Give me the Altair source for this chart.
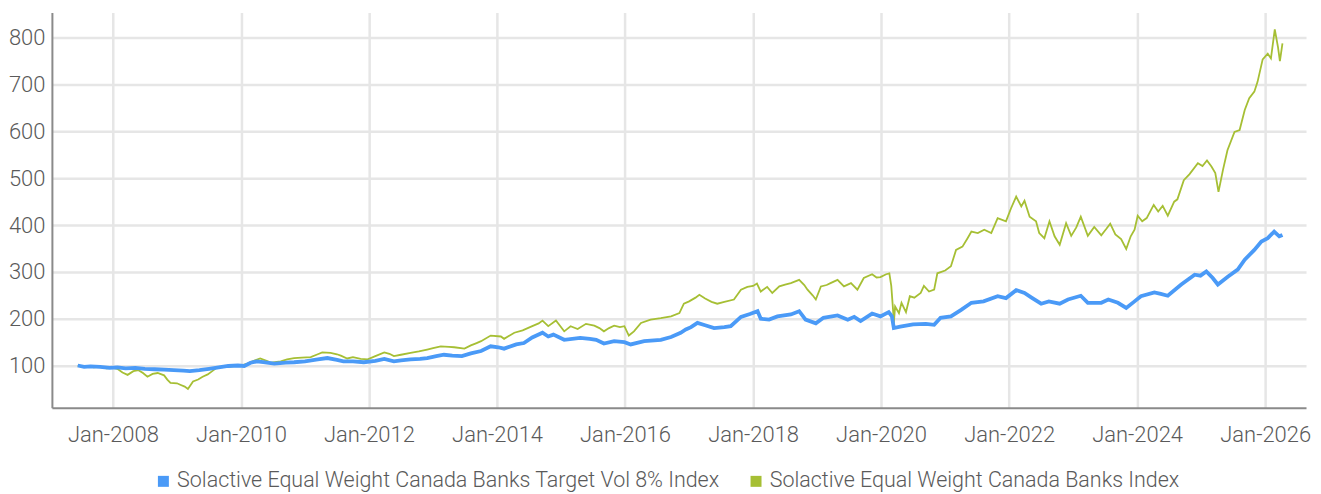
import altair as alt
import pandas as pd

BLUE_NAME = "Solactive Equal Weight Canada Banks Target Vol 8% Index"
GREEN_NAME = "Solactive Equal Weight Canada Banks Index"

green_t = [2007.45, 2007.52, 2007.6, 2007.7, 2007.8, 2007.9, 2008.0, 2008.07, 2008.15, 2008.23,
           2008.32, 2008.4, 2008.47, 2008.54, 2008.62, 2008.7, 2008.8, 2008.85, 2008.9, 2009.0,
           2009.05, 2009.12, 2009.17, 2009.25, 2009.33, 2009.4, 2009.48, 2009.55, 2009.62, 2009.7,
           2009.85, 2010.0, 2010.1, 2010.18, 2010.3, 2010.4, 2010.47, 2010.62, 2010.72, 2010.83,
           2010.95, 2011.09, 2011.2, 2011.27, 2011.4, 2011.5, 2011.56, 2011.66, 2011.75, 2011.87,
           2011.98, 2012.1, 2012.24, 2012.32, 2012.39, 2012.5, 2012.65, 2012.78, 2012.91, 2013.0,
           2013.12, 2013.25, 2013.33, 2013.49, 2013.59, 2013.68, 2013.75, 2013.9, 2014.06, 2014.11,
           2014.27, 2014.4, 2014.55, 2014.65, 2014.71, 2014.8, 2014.92, 2015.05, 2015.15, 2015.26,
           2015.39, 2015.52, 2015.6, 2015.67, 2015.75, 2015.83, 2015.92, 2015.99, 2016.06, 2016.14,
           2016.25, 2016.4, 2016.56, 2016.72, 2016.85, 2016.92, 2017.0, 2017.1, 2017.16, 2017.25,
           2017.35, 2017.44, 2017.55, 2017.7, 2017.81, 2017.91, 2018.0, 2018.06, 2018.12, 2018.22,
           2018.3, 2018.41, 2018.5, 2018.59, 2018.72, 2018.8, 2018.85, 2018.93, 2018.98, 2019.06,
           2019.15, 2019.21, 2019.32, 2019.42, 2019.53, 2019.63, 2019.73, 2019.86, 2019.93, 2019.99,
           2020.08, 2020.13, 2020.16, 2020.19, 2020.2, 2020.22, 2020.28, 2020.32, 2020.39, 2020.45,
           2020.52, 2020.62, 2020.67, 2020.75, 2020.83, 2020.88, 2021.0, 2021.09, 2021.17, 2021.27,
           2021.35, 2021.41, 2021.51, 2021.61, 2021.72, 2021.82, 2021.95, 2022.03, 2022.11, 2022.19,
           2022.24, 2022.32, 2022.42, 2022.47, 2022.55, 2022.63, 2022.71, 2022.79, 2022.89, 2022.97,
           2023.05, 2023.12, 2023.23, 2023.33, 2023.44, 2023.52, 2023.58, 2023.66, 2023.75, 2023.83,
           2023.9, 2023.96, 2024.01, 2024.08, 2024.15, 2024.26, 2024.33, 2024.4, 2024.48, 2024.58,
           2024.63, 2024.73, 2024.82, 2024.95, 2025.02, 2025.09, 2025.16, 2025.22, 2025.27, 2025.34,
           2025.41, 2025.52, 2025.6, 2025.68, 2025.75, 2025.83, 2025.88, 2025.96, 2026.04, 2026.09,
           2026.15, 2026.2, 2026.23, 2026.27]
green_v = [100, 97, 99, 96, 97, 94, 95, 93, 85, 80,
           88, 90, 84, 76, 82, 84, 79, 70, 63, 62,
           59, 55, 50, 66, 70, 76, 81, 88, 95, 97,
           98, 100, 104, 109, 115, 110, 106, 109, 113, 116,
           117, 118, 124, 128, 127, 124, 121, 115, 118, 114,
           113, 120, 128, 125, 120, 123, 127, 130, 134, 137,
           141, 140, 139, 136, 143, 148, 152, 164, 162, 157,
           170, 175, 184, 190, 196, 184, 196, 173, 184, 178,
           189, 185, 180, 173, 180, 185, 182, 184, 164, 173,
           191, 198, 201, 205, 212, 232, 237, 245, 251, 243,
           236, 232, 236, 241, 262, 268, 270, 275, 258, 268,
           255, 269, 273, 276, 283, 272, 262, 250, 241, 269,
           272, 276, 283, 269, 276, 262, 287, 295, 288, 289,
           295, 297, 270, 215, 191, 226, 212, 234, 214, 248,
           245, 255, 270, 258, 262, 297, 303, 312, 347, 354,
           372, 386, 383, 390, 383, 415, 408, 436, 461, 440,
           452, 418, 408, 383, 372, 408, 376, 358, 404, 377,
           395, 418, 377, 396, 378, 392, 403, 380, 370, 349,
           376, 390, 420, 408, 415, 443, 429, 441, 420, 450,
           455, 496, 509, 532, 526, 538, 525, 511, 471, 518,
           560, 599, 603, 646, 671, 685, 706, 754, 766, 756,
           818, 780, 750, 788]

blue_t = [2007.45, 2007.55, 2007.65, 2007.8, 2007.95, 2008.07, 2008.2, 2008.35, 2008.5, 2008.65,
          2008.8, 2008.95, 2009.1, 2009.2, 2009.35, 2009.5, 2009.65, 2009.8, 2009.95, 2010.05,
          2010.15, 2010.25, 2010.35, 2010.52, 2010.7, 2010.83, 2011.0, 2011.2, 2011.35, 2011.5,
          2011.6, 2011.75, 2011.92, 2012.1, 2012.24, 2012.39, 2012.5, 2012.65, 2012.8, 2012.91,
          2013.05, 2013.17, 2013.3, 2013.45, 2013.59, 2013.75, 2013.9, 2014.02, 2014.11, 2014.3,
          2014.42, 2014.55, 2014.71, 2014.8, 2014.88, 2015.05, 2015.3, 2015.45, 2015.55, 2015.67,
          2015.83, 2015.99, 2016.09, 2016.3, 2016.56, 2016.72, 2016.87, 2016.95, 2017.03, 2017.13,
          2017.25, 2017.39, 2017.55, 2017.65, 2017.81, 2017.95, 2018.07, 2018.12, 2018.25, 2018.38,
          2018.59, 2018.72, 2018.82, 2018.98, 2019.1, 2019.32, 2019.48, 2019.58, 2019.68, 2019.86,
          2019.99, 2020.12, 2020.17, 2020.2, 2020.3, 2020.5, 2020.7, 2020.83, 2020.93, 2021.09,
          2021.25, 2021.41, 2021.6, 2021.82, 2021.95, 2022.11, 2022.24, 2022.35, 2022.5, 2022.62,
          2022.79, 2022.92, 2023.12, 2023.23, 2023.44, 2023.55, 2023.7, 2023.83, 2023.96, 2024.06,
          2024.27, 2024.37, 2024.48, 2024.69, 2024.9, 2024.99, 2025.08, 2025.18, 2025.26, 2025.42,
          2025.57, 2025.68, 2025.83, 2025.94, 2026.04, 2026.14, 2026.22, 2026.27]
blue_v = [100, 97, 98, 97, 95, 96, 94, 95, 93, 92,
          91, 90, 89, 88, 90, 93, 96, 99, 100, 99,
          106, 109, 107, 104, 106, 107, 109, 113, 116, 112,
          109, 109, 107, 110, 114, 109, 111, 113, 114, 116,
          120, 123, 121, 120, 126, 131, 141, 139, 136, 145,
          148, 160, 170, 162, 166, 155, 159, 157, 155, 147,
          152, 150, 145, 152, 155, 161, 170, 177, 182, 191,
          186, 180, 182, 184, 204, 210, 216, 200, 198, 205,
          209, 216, 198, 190, 202, 207, 198, 204, 195, 211,
          205, 214, 205, 180, 183, 188, 189, 187, 202, 205,
          219, 234, 237, 248, 244, 261, 255, 245, 232, 237,
          232, 241, 249, 234, 234, 241, 234, 223, 237, 248,
          256, 253, 249, 273, 294, 292, 301, 287, 273, 290,
          305, 326, 347, 365, 372, 386, 376, 379]

x_ticks = ["2008-01-01", "2010-01-01", "2012-01-01", "2014-01-01", "2016-01-01",
           "2018-01-01", "2020-01-01", "2022-01-01", "2024-01-01", "2026-01-01"]
y_ticks = [100, 200, 300, 400, 500, 600, 700, 800]


def to_dates(years):
    out = []
    for y in years:
        yr = int(y)
        out.append(pd.Timestamp(year=yr, month=1, day=1) + pd.Timedelta(days=(y - yr) * 365.25))
    return out


df_green = pd.DataFrame({"date": to_dates(green_t), "value": green_v, "series": GREEN_NAME})
df_blue = pd.DataFrame({"date": to_dates(blue_t), "value": blue_v, "series": BLUE_NAME})

FONT = "Roboto"
TXT = "#5a5a5a"

color_scale = alt.Scale(domain=[BLUE_NAME, GREEN_NAME], range=["#4a9af7", "#a6bf34"])

x_enc = alt.X("date:T", title=None,
              scale=alt.Scale(domain=["2007-01-18", "2026-08-22"]),
              axis=alt.Axis(values=[pd.Timestamp(d).isoformat() for d in x_ticks],
                            format="%b-%Y", labelFontSize=22, labelPadding=17))
y_enc = alt.Y("value:Q", title=None,
              scale=alt.Scale(domain=[10, 854], nice=False, zero=False),
              axis=alt.Axis(values=y_ticks, labelFontSize=22, labelPadding=7))
color_enc = alt.Color("series:N", scale=color_scale, title=None,
                      legend=alt.Legend(orient="none", direction="horizontal",
                                        legendX=101, legendY=459,
                                        symbolType="square", symbolSize=16,
                                        symbolStrokeWidth=7, labelFontSize=21.5,
                                        columnPadding=19, labelOffset=3))

green_line = alt.Chart(df_green).mark_line(strokeWidth=1.8).encode(x=x_enc, y=y_enc, color=color_enc)
blue_line = alt.Chart(df_blue).mark_line(strokeWidth=3.8).encode(x=x_enc, y=y_enc, color=color_enc)

chart = alt.layer(green_line, blue_line).properties(
    width=1257, height=396,
    padding={"left": 0, "top": 4, "right": 2, "bottom": 0},
).configure_view(stroke=None).configure_axis(
    labelFont=FONT, labelColor=TXT, labelFontWeight=300,
    grid=True, gridColor="#e6e6e6", gridWidth=2.5,
    domain=True, domainColor="#8a8a8a", domainWidth=2,
    ticks=False,
).configure_legend(
    labelFont=FONT, labelColor=TXT, labelFontWeight=300, labelLimit=0,
)

chart.save("out.html", embed_options={"renderer": "svg", "actions": False})
